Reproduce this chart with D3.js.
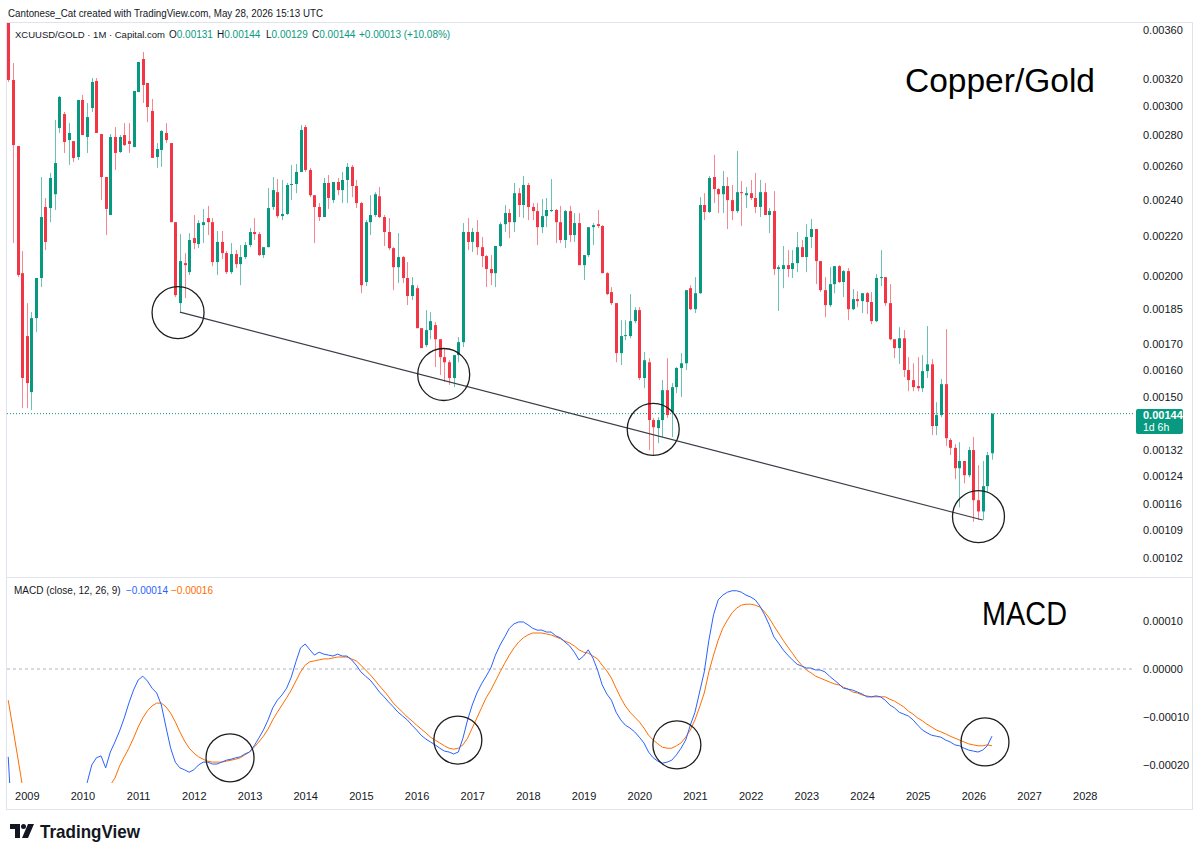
<!DOCTYPE html>
<html>
<head>
<meta charset="utf-8">
<script src="https://cdn.jsdelivr.net/npm/d3@7"></script>
<style>
body { margin: 0; background: #fff; }
svg text { font-family: "Liberation Sans", Arial, sans-serif; }
</style>
</head>
<body>
<div id="chart"></div>
<script>
// monthly bars of XCUUSD/GOLD, Sep 2008 .. May 2026 (one value per month)
var firstMonth = new Date(2008, 8, 1);
var endMonth = new Date(2026, 5, 1);

var open = [
    0.003900, 0.003195, 0.002729, 0.002014,
    0.001733, 0.001516, 0.001809, 0.001991, 0.002359, 0.002353, 0.002432, 0.002849, 0.002945, 0.002768, 0.002761, 0.002658,
    0.003046, 0.002788, 0.002988, 0.003187, 0.002808, 0.002534, 0.002314, 0.002788, 0.002690, 0.002801, 0.002761, 0.002722,
    0.003104, 0.003359, 0.003172, 0.002967, 0.002658, 0.002703, 0.002815, 0.002748, 0.002275, 0.001875, 0.002063, 0.002019,
    0.002190, 0.002159, 0.002259, 0.002297, 0.002275, 0.002068, 0.002170, 0.002113, 0.002019, 0.002108, 0.002058, 0.002093,
    0.002154, 0.002222, 0.002211, 0.002103, 0.002143, 0.002359, 0.002444, 0.002308, 0.002320, 0.002486, 0.002492, 0.002565,
    0.002855, 0.002577, 0.002426, 0.002359, 0.002303, 0.002498, 0.002398, 0.002504, 0.002456, 0.002516, 0.002596, 0.002480,
    0.002381, 0.001972, 0.002275, 0.002314, 0.002420, 0.002303, 0.002222, 0.002138, 0.002043, 0.002093, 0.001991, 0.001907,
    0.001943, 0.001766, 0.001696, 0.001758, 0.001779, 0.001720, 0.001648, 0.001628, 0.001568, 0.001656, 0.001708, 0.002222,
    0.002170, 0.002222, 0.002143, 0.002098, 0.002034, 0.002014, 0.002149, 0.002264, 0.002325, 0.002275, 0.002438, 0.002370,
    0.002486, 0.002359, 0.002336, 0.002248, 0.002308, 0.002336, 0.002342, 0.002275, 0.002180, 0.002336, 0.002206, 0.002270,
    0.002053, 0.002103, 0.002248, 0.002264, 0.002254, 0.002014, 0.001925, 0.001875, 0.001664, 0.001733, 0.001733, 0.001796,
    0.001844, 0.001568, 0.001628, 0.001418, 0.001391, 0.001418, 0.001523, 0.001445, 0.001534, 0.001606, 0.001624, 0.001943,
    0.001848, 0.001920, 0.002370, 0.002331, 0.002534, 0.002462, 0.002432, 0.002480, 0.002398, 0.002336, 0.002444, 0.002426,
    0.002438, 0.002410, 0.002359, 0.002444, 0.002314, 0.002336, 0.002034, 0.002034, 0.002053, 0.002034, 0.002063, 0.002143,
    0.002093, 0.002196, 0.002238, 0.002073, 0.001934, 0.001866, 0.001962, 0.002048, 0.001972, 0.002024, 0.001848, 0.001893,
    0.001884, 0.001920, 0.001880, 0.001796, 0.001991, 0.001995, 0.001875, 0.001720, 0.001684, 0.001724, 0.001598, 0.001560,
    0.001538, 0.001530, 0.001594, 0.001620, 0.001398, 0.001435, 0.001545, 0.001352, 0.001327, 0.001264, 0.001286, 0.001243,
    0.001320, 0.001171, 0.001140, 0.001211, 0.001310
];

var high = [
    0.004000, 0.003327, 0.002729, 0.002123,
    0.001875, 0.001835, 0.001991, 0.002534, 0.002410, 0.002559, 0.002903, 0.003075, 0.002960, 0.002882, 0.002761, 0.003046,
    0.003083, 0.003024, 0.003210, 0.003210, 0.002808, 0.002534, 0.002808, 0.002855, 0.002801, 0.002882, 0.002882, 0.003112,
    0.003335, 0.003416, 0.003172, 0.003053, 0.002748, 0.002835, 0.002882, 0.002748, 0.002275, 0.002211, 0.002113, 0.002216,
    0.002314, 0.002286, 0.002348, 0.002365, 0.002297, 0.002227, 0.002227, 0.002123, 0.002164, 0.002128, 0.002154, 0.002170,
    0.002243, 0.002297, 0.002222, 0.002143, 0.002468, 0.002534, 0.002522, 0.002516, 0.002498, 0.002608, 0.002614, 0.002869,
    0.002869, 0.002590, 0.002426, 0.002381, 0.002528, 0.002546, 0.002504, 0.002528, 0.002565, 0.002620, 0.002608, 0.002516,
    0.002387, 0.002286, 0.002426, 0.002444, 0.002474, 0.002314, 0.002297, 0.002143, 0.002216, 0.002098, 0.002068, 0.001995,
    0.001957, 0.001766, 0.001844, 0.001835, 0.001792, 0.001720, 0.001684, 0.001636, 0.001656, 0.001729, 0.002270, 0.002297,
    0.002243, 0.002286, 0.002196, 0.002103, 0.002103, 0.002149, 0.002275, 0.002370, 0.002348, 0.002498, 0.002468, 0.002540,
    0.002498, 0.002381, 0.002381, 0.002404, 0.002410, 0.002522, 0.002348, 0.002365, 0.002342, 0.002365, 0.002325, 0.002325,
    0.002103, 0.002248, 0.002270, 0.002342, 0.002259, 0.002019, 0.001948, 0.001875, 0.001800, 0.001800, 0.001916, 0.001857,
    0.001857, 0.001668, 0.001644, 0.001425, 0.001428, 0.001560, 0.001644, 0.001549, 0.001609, 0.001664, 0.001934, 0.001957,
    0.001995, 0.002415, 0.002438, 0.002540, 0.002671, 0.002468, 0.002571, 0.002534, 0.002486, 0.002697, 0.002510, 0.002474,
    0.002516, 0.002559, 0.002516, 0.002498, 0.002353, 0.002450, 0.002053, 0.002149, 0.002128, 0.002128, 0.002222, 0.002180,
    0.002264, 0.002292, 0.002238, 0.002073, 0.001995, 0.002043, 0.002048, 0.002053, 0.002029, 0.002039, 0.001939, 0.001929,
    0.001920, 0.001925, 0.001925, 0.002010, 0.002128, 0.001995, 0.001962, 0.001720, 0.001770, 0.001758, 0.001648, 0.001624,
    0.001648, 0.001656, 0.001775, 0.001640, 0.001480, 0.001564, 0.001762, 0.001358, 0.001339, 0.001345, 0.001286, 0.001330,
    0.001362, 0.001273, 0.001286, 0.001314, 0.001440
];

var low = [
    0.003180, 0.002164, 0.001995, 0.001459,
    0.001459, 0.001452, 0.001749, 0.001948, 0.002128, 0.002275, 0.002342, 0.002815, 0.002684, 0.002608, 0.002626, 0.002639,
    0.002801, 0.002684, 0.002960, 0.002815, 0.002398, 0.002206, 0.002314, 0.002577, 0.002684, 0.002729, 0.002684, 0.002722,
    0.003104, 0.003024, 0.002889, 0.002652, 0.002590, 0.002596, 0.002748, 0.002275, 0.001902, 0.001835, 0.001898, 0.002005,
    0.002133, 0.002138, 0.002164, 0.002206, 0.002048, 0.002005, 0.002083, 0.002010, 0.002010, 0.002039, 0.001957, 0.002083,
    0.002143, 0.002180, 0.002098, 0.002088, 0.002143, 0.002342, 0.002297, 0.002286, 0.002314, 0.002398, 0.002438, 0.002565,
    0.002565, 0.002415, 0.002164, 0.002281, 0.002303, 0.002348, 0.002381, 0.002426, 0.002381, 0.002381, 0.002415, 0.002353,
    0.001920, 0.001953, 0.002206, 0.002303, 0.002297, 0.002149, 0.002128, 0.001934, 0.001967, 0.001967, 0.001866, 0.001889,
    0.001766, 0.001684, 0.001688, 0.001720, 0.001609, 0.001579, 0.001553, 0.001542, 0.001534, 0.001628, 0.001688, 0.002128,
    0.002118, 0.002103, 0.002043, 0.001948, 0.001957, 0.001948, 0.002143, 0.002222, 0.002190, 0.002222, 0.002303, 0.002297,
    0.002286, 0.002286, 0.002154, 0.002216, 0.002248, 0.002331, 0.002164, 0.002164, 0.002138, 0.002170, 0.002170, 0.002053,
    0.001981, 0.002093, 0.002154, 0.002243, 0.002014, 0.001911, 0.001866, 0.001628, 0.001617, 0.001716, 0.001724, 0.001787,
    0.001560, 0.001530, 0.001320, 0.001304, 0.001342, 0.001361, 0.001425, 0.001361, 0.001512, 0.001498, 0.001598, 0.001844,
    0.001831, 0.001916, 0.002286, 0.002325, 0.002381, 0.002325, 0.002325, 0.002238, 0.002286, 0.002325, 0.002254, 0.002353,
    0.002398, 0.002325, 0.002303, 0.002314, 0.002216, 0.002005, 0.001840, 0.001943, 0.001995, 0.001991, 0.002019, 0.002093,
    0.002019, 0.002138, 0.001962, 0.001925, 0.001813, 0.001857, 0.001920, 0.001967, 0.001902, 0.001800, 0.001844, 0.001857,
    0.001831, 0.001827, 0.001783, 0.001792, 0.001953, 0.001862, 0.001716, 0.001644, 0.001621, 0.001571, 0.001519, 0.001519,
    0.001519, 0.001516, 0.001568, 0.001368, 0.001368, 0.001428, 0.001333, 0.001304, 0.001231, 0.001151, 0.001219, 0.001237,
    0.001112, 0.001117, 0.001117, 0.001191, 0.001290
];

var close = [
    0.003195, 0.002735, 0.002005, 0.001568,
    0.001549, 0.001809, 0.001991, 0.002303, 0.002170, 0.002528, 0.002620, 0.003068, 0.002755, 0.002815, 0.002652, 0.003046,
    0.002801, 0.002924, 0.003180, 0.002815, 0.002534, 0.002348, 0.002788, 0.002684, 0.002788, 0.002735, 0.002742, 0.003112,
    0.003335, 0.003157, 0.002995, 0.002652, 0.002709, 0.002828, 0.002768, 0.002275, 0.001911, 0.002073, 0.002053, 0.002180,
    0.002164, 0.002270, 0.002275, 0.002275, 0.002068, 0.002170, 0.002113, 0.002019, 0.002108, 0.002058, 0.002093, 0.002154,
    0.002222, 0.002211, 0.002103, 0.002143, 0.002353, 0.002456, 0.002308, 0.002320, 0.002486, 0.002492, 0.002565, 0.002835,
    0.002577, 0.002426, 0.002359, 0.002303, 0.002498, 0.002410, 0.002504, 0.002456, 0.002516, 0.002596, 0.002480, 0.002381,
    0.001957, 0.002275, 0.002314, 0.002432, 0.002303, 0.002222, 0.002138, 0.002043, 0.002093, 0.001991, 0.001907, 0.001957,
    0.001766, 0.001684, 0.001758, 0.001796, 0.001720, 0.001648, 0.001628, 0.001568, 0.001656, 0.001708, 0.002222, 0.002170,
    0.002222, 0.002143, 0.002098, 0.002034, 0.002014, 0.002149, 0.002264, 0.002325, 0.002275, 0.002438, 0.002370, 0.002486,
    0.002359, 0.002336, 0.002248, 0.002308, 0.002342, 0.002342, 0.002275, 0.002180, 0.002336, 0.002206, 0.002270, 0.002053,
    0.002103, 0.002248, 0.002259, 0.002254, 0.002014, 0.001916, 0.001875, 0.001664, 0.001733, 0.001737, 0.001796, 0.001844,
    0.001568, 0.001636, 0.001418, 0.001394, 0.001418, 0.001523, 0.001435, 0.001534, 0.001606, 0.001624, 0.001934, 0.001848,
    0.001920, 0.002370, 0.002331, 0.002528, 0.002462, 0.002432, 0.002480, 0.002398, 0.002336, 0.002444, 0.002438, 0.002438,
    0.002410, 0.002359, 0.002444, 0.002314, 0.002336, 0.002034, 0.002043, 0.002053, 0.002034, 0.002063, 0.002143, 0.002093,
    0.002196, 0.002238, 0.002073, 0.001934, 0.001866, 0.001962, 0.002048, 0.001972, 0.002024, 0.001848, 0.001893, 0.001884,
    0.001920, 0.001880, 0.001796, 0.001991, 0.001995, 0.001875, 0.001720, 0.001684, 0.001724, 0.001598, 0.001560, 0.001534,
    0.001530, 0.001594, 0.001620, 0.001398, 0.001435, 0.001545, 0.001358, 0.001327, 0.001264, 0.001286, 0.001243, 0.001320,
    0.001171, 0.001140, 0.001211, 0.001304, 0.001440
];

var macd = [
    -0.000183, -0.000356, -0.000440, -0.000492,
    -0.000512, -0.000512, -0.000492, -0.000460, -0.000429, -0.000402, -0.000377, -0.000352, -0.000331, -0.000310, -0.000290, -0.000273,
    -0.000256, -0.000237, -0.000200, -0.000185, -0.000181, -0.000206, -0.000173, -0.000152, -0.000129, -0.000102, -0.000071, -0.000044,
    -0.000023, -0.000015, -0.000025, -0.000040, -0.000050, -0.000075, -0.000121, -0.000165, -0.000194, -0.000206, -0.000210, -0.000215,
    -0.000210, -0.000200, -0.000194, -0.000194, -0.000198, -0.000198, -0.000194, -0.000190, -0.000188, -0.000185, -0.000183, -0.000177,
    -0.000173, -0.000160, -0.000144, -0.000127, -0.000106, -0.000081, -0.000065, -0.000054, -0.000040, -0.000017, 0.000015, 0.000044,
    0.000052, 0.000040, 0.000029, 0.000035, 0.000031, 0.000029, 0.000027, 0.000031, 0.000027, 0.000027, 0.000019, 0.000008,
    -0.000006, -0.000015, -0.000023, -0.000035, -0.000048, -0.000058, -0.000069, -0.000079, -0.000090, -0.000098, -0.000106, -0.000117,
    -0.000127, -0.000138, -0.000146, -0.000152, -0.000158, -0.000165, -0.000171, -0.000173, -0.000177, -0.000173, -0.000144, -0.000106,
    -0.000075, -0.000050, -0.000031, -0.000015, 0.000002, 0.000029, 0.000050, 0.000067, 0.000085, 0.000094, 0.000098, 0.000098,
    0.000092, 0.000085, 0.000081, 0.000081, 0.000077, 0.000077, 0.000069, 0.000065, 0.000056, 0.000048, 0.000035, 0.000019,
    0.000027, 0.000040, 0.000023, -0.000002, -0.000033, -0.000052, -0.000065, -0.000090, -0.000106, -0.000117, -0.000123, -0.000131,
    -0.000142, -0.000154, -0.000173, -0.000185, -0.000192, -0.000196, -0.000194, -0.000190, -0.000179, -0.000165, -0.000148, -0.000117,
    -0.000090, -0.000048, -0.000006, 0.000060, 0.000113, 0.000144, 0.000154, 0.000160, 0.000163, 0.000163, 0.000160, 0.000154,
    0.000150, 0.000144, 0.000131, 0.000113, 0.000092, 0.000067, 0.000054, 0.000040, 0.000029, 0.000019, 0.000010, 0.000006,
    0.000002, 0.000002, -0.000002, -0.000002, -0.000006, -0.000015, -0.000023, -0.000031, -0.000040, -0.000042, -0.000044, -0.000048,
    -0.000052, -0.000058, -0.000058, -0.000056, -0.000058, -0.000065, -0.000075, -0.000081, -0.000090, -0.000094, -0.000098, -0.000106,
    -0.000117, -0.000127, -0.000133, -0.000138, -0.000140, -0.000142, -0.000148, -0.000152, -0.000158, -0.000160, -0.000165, -0.000169,
    -0.000171, -0.000173, -0.000169, -0.000160, -0.000140
];

var signal = [
    -0.000065, -0.000123, -0.000181, -0.000240,
    -0.000298, -0.000335, -0.000367, -0.000387, -0.000402, -0.000410, -0.000413, -0.000410, -0.000404, -0.000394, -0.000381, -0.000367,
    -0.000350, -0.000331, -0.000310, -0.000290, -0.000273, -0.000256, -0.000242, -0.000227, -0.000202, -0.000183, -0.000165, -0.000144,
    -0.000121, -0.000102, -0.000087, -0.000077, -0.000071, -0.000071, -0.000079, -0.000092, -0.000110, -0.000131, -0.000150, -0.000165,
    -0.000175, -0.000183, -0.000188, -0.000192, -0.000194, -0.000194, -0.000194, -0.000192, -0.000190, -0.000188, -0.000185, -0.000179,
    -0.000173, -0.000163, -0.000152, -0.000140, -0.000125, -0.000106, -0.000090, -0.000075, -0.000060, -0.000044, -0.000025, -0.000006,
    0.000008, 0.000015, 0.000017, 0.000019, 0.000021, 0.000021, 0.000023, 0.000025, 0.000025, 0.000025, 0.000021, 0.000017,
    0.000008, -0.000002, -0.000012, -0.000023, -0.000035, -0.000046, -0.000058, -0.000071, -0.000081, -0.000090, -0.000100, -0.000108,
    -0.000117, -0.000125, -0.000133, -0.000142, -0.000148, -0.000154, -0.000160, -0.000165, -0.000167, -0.000165, -0.000158, -0.000144,
    -0.000123, -0.000102, -0.000081, -0.000060, -0.000044, -0.000025, -0.000006, 0.000012, 0.000029, 0.000044, 0.000056, 0.000065,
    0.000071, 0.000075, 0.000075, 0.000075, 0.000073, 0.000071, 0.000067, 0.000063, 0.000058, 0.000054, 0.000048, 0.000040,
    0.000035, 0.000033, 0.000027, 0.000021, 0.000008, -0.000004, -0.000019, -0.000040, -0.000060, -0.000077, -0.000090, -0.000100,
    -0.000110, -0.000123, -0.000138, -0.000148, -0.000156, -0.000163, -0.000165, -0.000165, -0.000160, -0.000154, -0.000142, -0.000127,
    -0.000106, -0.000079, -0.000050, -0.000006, 0.000029, 0.000060, 0.000085, 0.000102, 0.000117, 0.000127, 0.000133, 0.000135,
    0.000135, 0.000133, 0.000129, 0.000119, 0.000106, 0.000090, 0.000075, 0.000060, 0.000046, 0.000033, 0.000019, 0.000008,
    -0.000002, -0.000008, -0.000015, -0.000019, -0.000023, -0.000027, -0.000031, -0.000033, -0.000038, -0.000042, -0.000048, -0.000050,
    -0.000054, -0.000056, -0.000058, -0.000058, -0.000058, -0.000058, -0.000063, -0.000067, -0.000073, -0.000079, -0.000088, -0.000094,
    -0.000102, -0.000108, -0.000115, -0.000121, -0.000127, -0.000131, -0.000135, -0.000140, -0.000144, -0.000148, -0.000152, -0.000156,
    -0.000158, -0.000160, -0.000160, -0.000158, -0.000160
];

// axis ticks
var priceTicks = [0.0036, 0.0032, 0.0030, 0.0028, 0.0026, 0.0024, 0.0022, 0.0020, 0.00185, 0.0017, 0.0016, 0.0015,
    0.00132, 0.00124, 0.00116, 0.00109, 0.00102];
var macdTicks = [0.0001, 0, -0.0001, -0.0002];
var yearTicks = [2009, 2010, 2011, 2012, 2013, 2014, 2015, 2016, 2017, 2018, 2019, 2020, 2021, 2022, 2023, 2024,
    2025, 2026, 2027, 2028];

// drawings: trend line through two lows, circles (bar position from Jan 2009, value)
var trendBars = [33, 206];
var trendValues = [0.001835, 0.001117];
var priceCircleBars = [32.6, 89.85, 135.0, 205.1];
var priceCircleValues = [0.001833, 0.001581, 0.001387, 0.001126];
var macdCircleBars = [43.8, 92.9, 140.1, 206.5];
var macdCircleValues = [-0.000185, -0.000148, -0.000158, -0.000152];

var upColor = "#089981", downColor = "#f23645", textColor = "#131722";

var months = d3.timeMonth.range(firstMonth, endMonth);

function barIndex(d) {
    return (d.getFullYear() - 2009) * 12 + d.getMonth();
}

var xScale = d3.scaleLinear().domain([-4.05, 238.4]).range([8, 1133]);
var yPrice = d3.scaleLog().domain([0.00102, 0.0036]).range([558, 30]);
var yMacd = d3.scaleLinear().domain([-0.0002, 0.0001]).range([765, 621]);
var fmt = d3.format(".5f");

var svg = d3.select("#chart").append("svg").attr("width", 1200).attr("height", 856);
svg.append("rect").attr("width", 1200).attr("height", 856).attr("fill", "#ffffff");

// a text squeezed to a given width
function label(x, y, str, width, color, size) {
    return svg.append("text").attr("x", x).attr("y", y)
        .attr("font-size", size || 11).attr("fill", color || textColor)
        .attr("textLength", width).attr("lengthAdjust", "spacingAndGlyphs")
        .text(str);
}

// a dark letter followed by a coloured value, in one text
function pair(x, y, letter, value, color) {
    var t = svg.append("text").attr("x", x).attr("y", y).attr("font-size", 10).attr("fill", textColor);
    if (letter) t.append("tspan").text(letter);
    t.append("tspan").attr("fill", color).text(value);
    return t;
}

var defs = svg.append("defs");
defs.append("clipPath").attr("id", "clipPrice").append("rect")
    .attr("x", 7).attr("y", 23).attr("width", 1127).attr("height", 554);
defs.append("clipPath").attr("id", "clipMacd").append("rect")
    .attr("x", 7).attr("y", 578).attr("width", 1127).attr("height", 205);

// frame and pane separator
svg.append("rect").attr("x", 6.5).attr("y", 22.5).attr("width", 1186).attr("height", 787)
    .attr("fill", "none").attr("stroke", "#e0e3eb");
svg.append("line").attr("x1", 7).attr("x2", 1193).attr("y1", 577.5).attr("y2", 577.5)
    .attr("stroke", "#e0e3eb");

// header
label(8, 17, "Cantonese_Cat created with TradingView.com, May 28, 2026 15:13 UTC", 315, textColor, 11.5);

// symbol legend
var last = close.length - 1;
svg.append("text").attr("x", 15).attr("y", 38).attr("font-size", 9.5).attr("fill", textColor)
    .text("XCUUSD/GOLD · 1M · Capital.com");
pair(169, 38, "O", fmt(open[last]), upColor);
pair(217, 38, "H", fmt(high[last]), upColor);
pair(266, 38, "L", fmt(low[last]), upColor);
pair(312, 38, "C", fmt(close[last]), upColor);
pair(359, 38, "", "+0.00013 (+10.08%)", upColor);

// price pane
var pricePane = svg.append("g").attr("clip-path", "url(#clipPrice)");

var lastY = yPrice(close[last]);
pricePane.append("line").attr("x1", 7).attr("x2", 1134).attr("y1", lastY).attr("y2", lastY)
    .attr("stroke", upColor).attr("stroke-dasharray", "1,2").attr("stroke-width", 1);

var bars = months.map(function(d, i) {
    return { date: d, o: open[i], h: high[i], l: low[i], c: close[i] };
});

pricePane.selectAll("line.wick")
    .data(bars)
    .enter()
    .append("line")
    .attr("class", "wick")
    .attr("x1", function(d) { return Math.round(xScale(barIndex(d.date))) + 0.5; })
    .attr("x2", function(d) { return Math.round(xScale(barIndex(d.date))) + 0.5; })
    .attr("y1", function(d) { return yPrice(d.h); })
    .attr("y2", function(d) { return yPrice(d.l); })
    .attr("stroke", function(d) { return d.c >= d.o ? upColor : downColor; })
    .attr("stroke-opacity", 0.6)
    .attr("stroke-width", 1);

pricePane.selectAll("rect.body")
    .data(bars)
    .enter()
    .append("rect")
    .attr("class", "body")
    .attr("x", function(d) { return Math.round(xScale(barIndex(d.date))) - 1; })
    .attr("y", function(d) { return yPrice(Math.max(d.o, d.c)); })
    .attr("width", 3)
    .attr("height", function(d) {
        return Math.max(1, yPrice(Math.min(d.o, d.c)) - yPrice(Math.max(d.o, d.c)));
    })
    .attr("fill", function(d) { return d.c >= d.o ? upColor : downColor; });

pricePane.append("line")
    .attr("x1", xScale(trendBars[0])).attr("y1", yPrice(trendValues[0]))
    .attr("x2", xScale(trendBars[1])).attr("y2", yPrice(trendValues[1]))
    .attr("stroke", "#3a3d45").attr("stroke-width", 1.1);

pricePane.selectAll("circle.mark")
    .data(priceCircleBars)
    .enter()
    .append("circle")
    .attr("cx", function(d) { return xScale(d); })
    .attr("cy", function(d, i) { return yPrice(priceCircleValues[i]); })
    .attr("r", 26)
    .attr("fill", "none").attr("stroke", "#1e1e1e").attr("stroke-width", 1.3);

label(905, 92, "Copper/Gold", 190, "#000", 34).attr("font-family", "Lato");

// MACD pane
var macdPane = svg.append("g").attr("clip-path", "url(#clipMacd)");
macdPane.append("line").attr("x1", 7).attr("x2", 1134).attr("y1", yMacd(0)).attr("y2", yMacd(0))
    .attr("stroke", "#b2b5be").attr("stroke-dasharray", "3,3");

var lineGen = function(values) {
    return d3.line()
        .x(function(d, i) { return xScale(barIndex(months[i])); })
        .y(function(d) { return yMacd(d); })(values);
};
macdPane.append("path").attr("d", lineGen(signal)).attr("fill", "none")
    .attr("stroke", "#ff6d00").attr("stroke-width", 1);
macdPane.append("path").attr("d", lineGen(macd)).attr("fill", "none")
    .attr("stroke", "#2962ff").attr("stroke-width", 1);

macdPane.selectAll("circle.mark")
    .data(macdCircleBars)
    .enter()
    .append("circle")
    .attr("cx", function(d) { return xScale(d); })
    .attr("cy", function(d, i) { return yMacd(macdCircleValues[i]); })
    .attr("r", 24)
    .attr("fill", "none").attr("stroke", "#1e1e1e").attr("stroke-width", 1.3);

svg.append("text").attr("x", 14).attr("y", 594).attr("font-size", 10).attr("fill", textColor)
    .text("MACD (close, 12, 26, 9)");
pair(126, 594, "", fmt(macd[last]), "#2962ff");
pair(171, 594, "", fmt(signal[last]), "#ff6d00");

label(982, 625, "MACD", 85, "#000", 34).attr("font-family", "Lato");

// price axis
var priceAxis = svg.append("g").attr("transform", "translate(1134,0)")
    .call(d3.axisRight(yPrice).tickValues(priceTicks).tickFormat(fmt).tickSize(0).tickPadding(9));
var macdAxis = svg.append("g").attr("transform", "translate(1134,0)")
    .call(d3.axisRight(yMacd).tickValues(macdTicks).tickFormat(fmt).tickSize(0).tickPadding(9));
[priceAxis, macdAxis].forEach(function(g) {
    g.select(".domain").remove();
    g.selectAll("text").attr("fill", textColor).attr("font-size", 11)
        .attr("font-family", "Liberation Sans, Arial, sans-serif");
});

// last price label
svg.append("rect").attr("x", 1136).attr("y", 409).attr("width", 47).attr("height", 25).attr("rx", 2)
    .attr("fill", upColor);
svg.append("text").attr("x", 1143).attr("y", 419).attr("font-size", 11).attr("font-weight", "bold")
    .attr("fill", "#fff").text(fmt(close[last]));
svg.append("text").attr("x", 1143).attr("y", 431).attr("font-size", 10.5)
    .attr("fill", "#fff").text("1d 6h");

// time axis
var timeAxis = svg.append("g").attr("transform", "translate(0,788)")
    .call(d3.axisBottom(xScale)
        .tickValues(yearTicks.map(function(y) { return (y - 2009) * 12; }))
        .tickFormat(function(v) { return String(2009 + v / 12); })
        .tickSize(0).tickPadding(4));
timeAxis.select(".domain").remove();
timeAxis.selectAll("text").attr("fill", textColor).attr("font-size", 11)
    .attr("font-family", "Liberation Sans, Arial, sans-serif");

// TradingView logo
var logo = svg.append("g").attr("transform", "translate(10,824)");
logo.append("path").attr("d", "M0 0 H10 V14 H5 V5 H0 Z").attr("fill", textColor);
logo.append("circle").attr("cx", 13.5).attr("cy", 2.5).attr("r", 2.5).attr("fill", textColor);
logo.append("path").attr("d", "M18 0 H24 L18 14 H12 Z").attr("fill", textColor);
label(40, 838, "TradingView", 100, textColor, 19).attr("font-weight", 600).attr("font-family", "Inter");
</script>
</body>
</html>
